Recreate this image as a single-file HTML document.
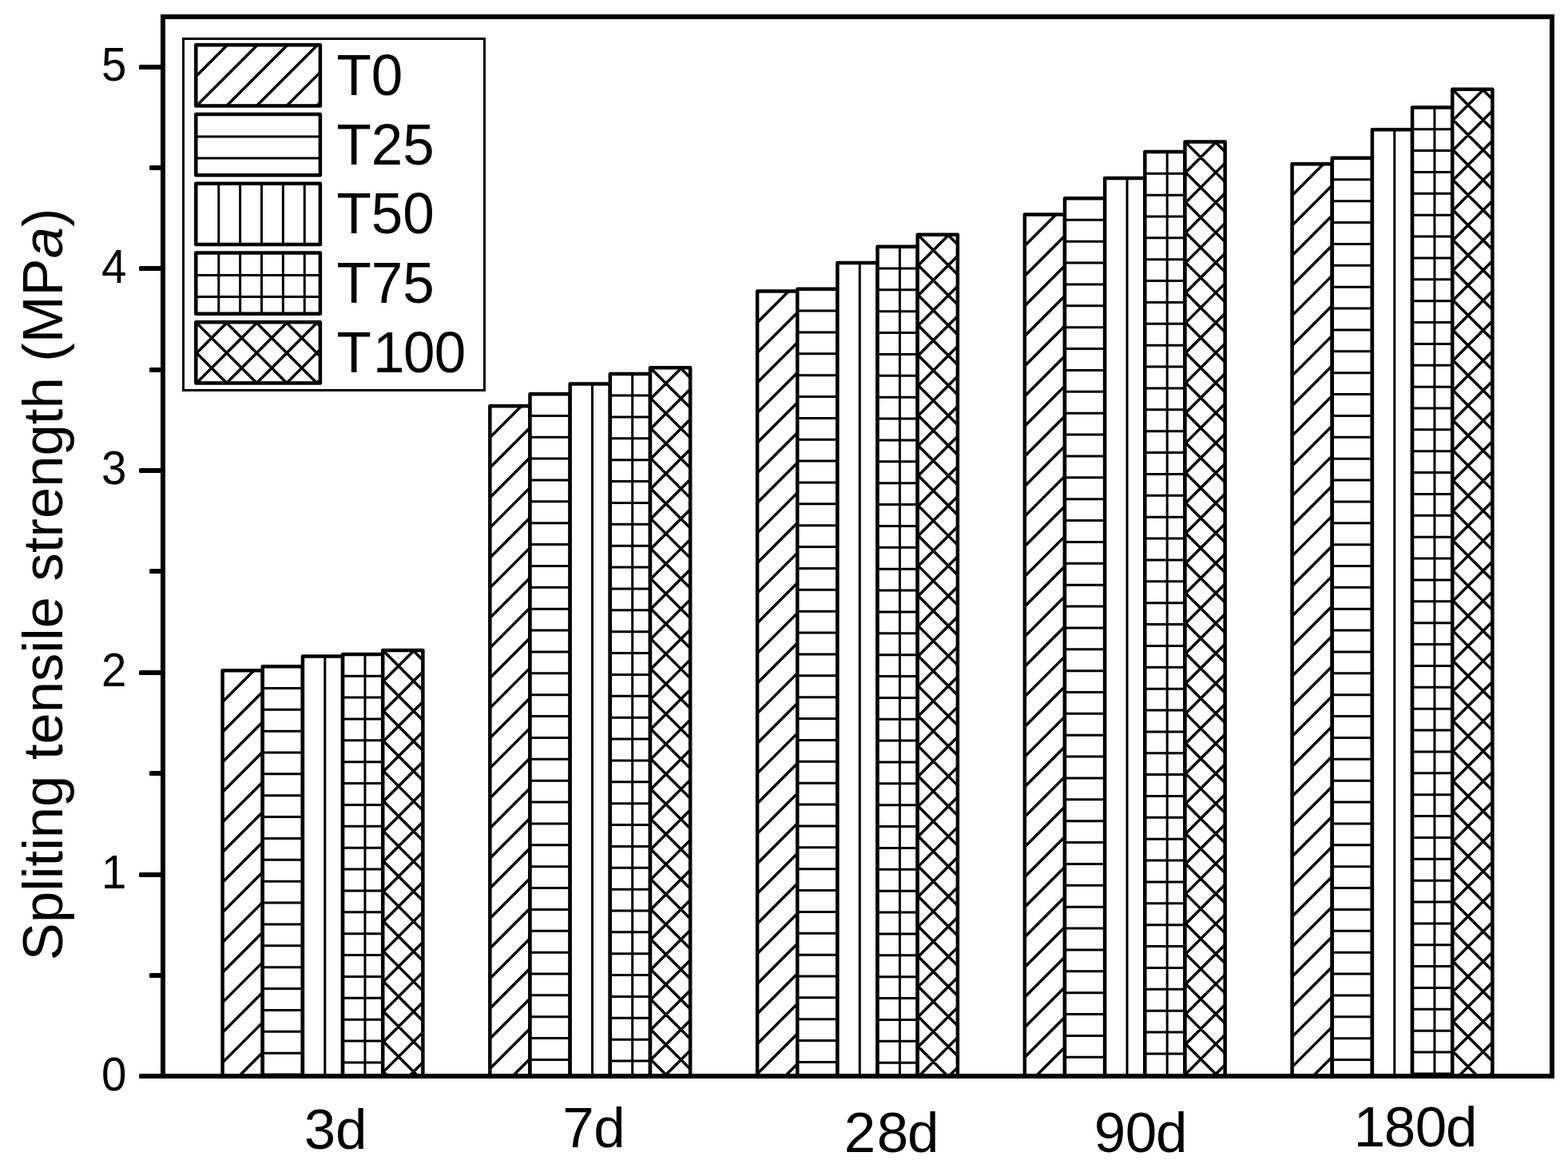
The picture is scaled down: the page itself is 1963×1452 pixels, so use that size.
<!DOCTYPE html>
<html lang="en"><head><meta charset="utf-8"><title>Spliting tensile strength</title>
<style>
html,body{margin:0;padding:0;background:#fff;}
body{width:1963px;height:1452px;overflow:hidden;}
svg{display:block;}
text{font-family:"Liberation Sans",sans-serif;fill:#000;}
.b{fill:#fff;stroke:#000;stroke-linejoin:round;}
.h{fill:none;stroke:#000;stroke-width:3;}
.hd{fill:none;stroke:#000;stroke-width:3.5;}
.yt{font-size:56.5px;text-anchor:end;}
.lg{font-size:71px;}
.xl{font-size:71px;}
.ti{font-size:70.6px;}
</style></head><body>
<svg width="1963" height="1452" viewBox="0 0 1963 1452">
<rect width="1963" height="1452" fill="#fff"/>
<defs><clipPath id="c1"><rect x="278.6" y="839.27" width="50.16" height="507.73"/></clipPath><clipPath id="c2"><rect x="328.76" y="834.22" width="50.16" height="512.78"/></clipPath><clipPath id="c3"><rect x="378.92" y="821.59" width="50.16" height="525.41"/></clipPath><clipPath id="c4"><rect x="429.08" y="819.07" width="50.16" height="527.93"/></clipPath><clipPath id="c5"><rect x="479.24" y="814.01" width="50.16" height="532.99"/></clipPath><clipPath id="c6"><rect x="613.35" y="508.37" width="50.16" height="838.63"/></clipPath><clipPath id="c7"><rect x="663.51" y="493.21" width="50.16" height="853.79"/></clipPath><clipPath id="c8"><rect x="713.67" y="480.58" width="50.16" height="866.42"/></clipPath><clipPath id="c9"><rect x="763.83" y="467.95" width="50.16" height="879.05"/></clipPath><clipPath id="c10"><rect x="813.99" y="460.37" width="50.16" height="886.63"/></clipPath><clipPath id="c11"><rect x="948.1" y="364.39" width="50.16" height="982.61"/></clipPath><clipPath id="c12"><rect x="998.26" y="361.86" width="50.16" height="985.14"/></clipPath><clipPath id="c13"><rect x="1048.42" y="329.02" width="50.16" height="1017.98"/></clipPath><clipPath id="c14"><rect x="1098.58" y="308.81" width="50.16" height="1038.19"/></clipPath><clipPath id="c15"><rect x="1148.74" y="293.66" width="50.16" height="1053.34"/></clipPath><clipPath id="c16"><rect x="1282.85" y="268.4" width="50.16" height="1078.6"/></clipPath><clipPath id="c17"><rect x="1333.01" y="248.19" width="50.16" height="1098.81"/></clipPath><clipPath id="c18"><rect x="1383.17" y="222.93" width="50.16" height="1124.07"/></clipPath><clipPath id="c19"><rect x="1433.33" y="190.09" width="50.16" height="1156.91"/></clipPath><clipPath id="c20"><rect x="1483.49" y="177.46" width="50.16" height="1169.54"/></clipPath><clipPath id="c21"><rect x="1617.6" y="205.25" width="50.16" height="1141.75"/></clipPath><clipPath id="c22"><rect x="1667.76" y="197.67" width="50.16" height="1149.33"/></clipPath><clipPath id="c23"><rect x="1717.92" y="162.31" width="50.16" height="1184.69"/></clipPath><clipPath id="c24"><rect x="1768.08" y="134.52" width="50.16" height="1212.48"/></clipPath><clipPath id="c25"><rect x="1818.24" y="111.79" width="50.16" height="1235.21"/></clipPath><clipPath id="c26"><rect x="245.3" y="56.3" width="155.6" height="76.3"/></clipPath><clipPath id="c27"><rect x="245.3" y="143.05" width="155.6" height="76.3"/></clipPath><clipPath id="c28"><rect x="245.3" y="229.8" width="155.6" height="76.3"/></clipPath><clipPath id="c29"><rect x="245.3" y="316.55" width="155.6" height="76.3"/></clipPath><clipPath id="c30"><rect x="245.3" y="403.3" width="155.6" height="76.3"/></clipPath></defs>
<rect x="278.6" y="839.27" width="50.16" height="507.73" class="b" stroke-width="4.5"/><path d="M275.6 843.97L331.76 787.81M275.6 881.59L331.76 825.43M275.6 919.21L331.76 863.05M275.6 956.83L331.76 900.67M275.6 994.45L331.76 938.29M275.6 1032.07L331.76 975.91M275.6 1069.69L331.76 1013.53M275.6 1107.31L331.76 1051.15M275.6 1144.93L331.76 1088.77M275.6 1182.55L331.76 1126.39M275.6 1220.17L331.76 1164.01M275.6 1257.79L331.76 1201.63M275.6 1295.41L331.76 1239.25M275.6 1333.03L331.76 1276.87M275.6 1370.65L331.76 1314.49" class="hd" clip-path="url(#c1)"/>
<rect x="328.76" y="834.22" width="50.16" height="512.78" class="b" stroke-width="4.5"/><path d="M328.76 861.39H378.92M328.76 888.26H378.92M328.76 915.13H378.92M328.76 942H378.92M328.76 968.87H378.92M328.76 995.74H378.92M328.76 1022.61H378.92M328.76 1049.48H378.92M328.76 1076.35H378.92M328.76 1103.22H378.92M328.76 1130.09H378.92M328.76 1156.96H378.92M328.76 1183.83H378.92M328.76 1210.7H378.92M328.76 1237.57H378.92M328.76 1264.44H378.92M328.76 1291.31H378.92M328.76 1318.18H378.92M328.76 1345.05H378.92" class="h" clip-path="url(#c2)"/>
<rect x="378.92" y="821.59" width="50.16" height="525.41" class="b" stroke-width="4.5"/><path d="M406.79 821.59V1347" class="h" clip-path="url(#c3)"/>
<rect x="429.08" y="819.07" width="50.16" height="527.93" class="b" stroke-width="4.5"/><path d="M429.08 846.24H479.24M429.08 873.11H479.24M429.08 899.98H479.24M429.08 926.85H479.24M429.08 953.72H479.24M429.08 980.59H479.24M429.08 1007.46H479.24M429.08 1034.33H479.24M429.08 1061.2H479.24M429.08 1088.07H479.24M429.08 1114.94H479.24M429.08 1141.81H479.24M429.08 1168.68H479.24M429.08 1195.55H479.24M429.08 1222.42H479.24M429.08 1249.29H479.24M429.08 1276.16H479.24M429.08 1303.03H479.24M429.08 1329.9H479.24M456.95 819.07V1347" class="h" clip-path="url(#c4)"/>
<rect x="479.24" y="814.01" width="50.16" height="532.99" class="b" stroke-width="4.5"/><path d="M476.24 818.71L532.4 762.55M476.24 856.33L532.4 800.17M476.24 893.95L532.4 837.79M476.24 931.57L532.4 875.41M476.24 969.19L532.4 913.03M476.24 1006.81L532.4 950.65M476.24 1044.43L532.4 988.27M476.24 1082.05L532.4 1025.89M476.24 1119.67L532.4 1063.51M476.24 1157.29L532.4 1101.13M476.24 1194.91L532.4 1138.75M476.24 1232.53L532.4 1176.37M476.24 1270.15L532.4 1213.99M476.24 1307.77L532.4 1251.61M476.24 1345.39L532.4 1289.23M476.24 1383.01L532.4 1326.85M476.24 735.67L532.4 791.83M476.24 773.29L532.4 829.45M476.24 810.91L532.4 867.07M476.24 848.53L532.4 904.69M476.24 886.15L532.4 942.31M476.24 923.77L532.4 979.93M476.24 961.39L532.4 1017.55M476.24 999.01L532.4 1055.17M476.24 1036.63L532.4 1092.79M476.24 1074.25L532.4 1130.41M476.24 1111.87L532.4 1168.03M476.24 1149.49L532.4 1205.65M476.24 1187.11L532.4 1243.27M476.24 1224.73L532.4 1280.89M476.24 1262.35L532.4 1318.51M476.24 1299.97L532.4 1356.13M476.24 1337.59L532.4 1393.75" class="hd" clip-path="url(#c5)"/>
<rect x="613.35" y="508.37" width="50.16" height="838.63" class="b" stroke-width="4.5"/><path d="M610.35 513.07L666.51 456.91M610.35 550.69L666.51 494.53M610.35 588.31L666.51 532.15M610.35 625.93L666.51 569.77M610.35 663.55L666.51 607.39M610.35 701.17L666.51 645.01M610.35 738.79L666.51 682.63M610.35 776.41L666.51 720.25M610.35 814.03L666.51 757.87M610.35 851.65L666.51 795.49M610.35 889.27L666.51 833.11M610.35 926.89L666.51 870.73M610.35 964.51L666.51 908.35M610.35 1002.13L666.51 945.97M610.35 1039.75L666.51 983.59M610.35 1077.37L666.51 1021.21M610.35 1114.99L666.51 1058.83M610.35 1152.61L666.51 1096.45M610.35 1190.23L666.51 1134.07M610.35 1227.85L666.51 1171.69M610.35 1265.47L666.51 1209.31M610.35 1303.09L666.51 1246.93M610.35 1340.71L666.51 1284.55M610.35 1378.33L666.51 1322.17" class="hd" clip-path="url(#c6)"/>
<rect x="663.51" y="493.21" width="50.16" height="853.79" class="b" stroke-width="4.5"/><path d="M663.51 520.38H713.67M663.51 547.25H713.67M663.51 574.12H713.67M663.51 600.99H713.67M663.51 627.86H713.67M663.51 654.73H713.67M663.51 681.6H713.67M663.51 708.47H713.67M663.51 735.34H713.67M663.51 762.21H713.67M663.51 789.08H713.67M663.51 815.95H713.67M663.51 842.82H713.67M663.51 869.69H713.67M663.51 896.56H713.67M663.51 923.43H713.67M663.51 950.3H713.67M663.51 977.17H713.67M663.51 1004.04H713.67M663.51 1030.91H713.67M663.51 1057.78H713.67M663.51 1084.65H713.67M663.51 1111.52H713.67M663.51 1138.39H713.67M663.51 1165.26H713.67M663.51 1192.13H713.67M663.51 1219H713.67M663.51 1245.87H713.67M663.51 1272.74H713.67M663.51 1299.61H713.67M663.51 1326.48H713.67" class="h" clip-path="url(#c7)"/>
<rect x="713.67" y="480.58" width="50.16" height="866.42" class="b" stroke-width="4.5"/><path d="M741.54 480.58V1347" class="h" clip-path="url(#c8)"/>
<rect x="763.83" y="467.95" width="50.16" height="879.05" class="b" stroke-width="4.5"/><path d="M763.83 495.12H813.99M763.83 521.99H813.99M763.83 548.86H813.99M763.83 575.73H813.99M763.83 602.6H813.99M763.83 629.47H813.99M763.83 656.34H813.99M763.83 683.21H813.99M763.83 710.08H813.99M763.83 736.95H813.99M763.83 763.82H813.99M763.83 790.69H813.99M763.83 817.56H813.99M763.83 844.43H813.99M763.83 871.3H813.99M763.83 898.17H813.99M763.83 925.04H813.99M763.83 951.91H813.99M763.83 978.78H813.99M763.83 1005.65H813.99M763.83 1032.52H813.99M763.83 1059.39H813.99M763.83 1086.26H813.99M763.83 1113.13H813.99M763.83 1140H813.99M763.83 1166.87H813.99M763.83 1193.74H813.99M763.83 1220.61H813.99M763.83 1247.48H813.99M763.83 1274.35H813.99M763.83 1301.22H813.99M763.83 1328.09H813.99M791.7 467.95V1347" class="h" clip-path="url(#c9)"/>
<rect x="813.99" y="460.37" width="50.16" height="886.63" class="b" stroke-width="4.5"/><path d="M810.99 465.07L867.15 408.91M810.99 502.69L867.15 446.53M810.99 540.31L867.15 484.15M810.99 577.93L867.15 521.77M810.99 615.55L867.15 559.39M810.99 653.17L867.15 597.01M810.99 690.79L867.15 634.63M810.99 728.41L867.15 672.25M810.99 766.03L867.15 709.87M810.99 803.65L867.15 747.49M810.99 841.27L867.15 785.11M810.99 878.89L867.15 822.73M810.99 916.51L867.15 860.35M810.99 954.13L867.15 897.97M810.99 991.75L867.15 935.59M810.99 1029.37L867.15 973.21M810.99 1066.99L867.15 1010.83M810.99 1104.61L867.15 1048.45M810.99 1142.23L867.15 1086.07M810.99 1179.85L867.15 1123.69M810.99 1217.47L867.15 1161.31M810.99 1255.09L867.15 1198.93M810.99 1292.71L867.15 1236.55M810.99 1330.33L867.15 1274.17M810.99 1367.95L867.15 1311.79M810.99 382.03L867.15 438.19M810.99 419.65L867.15 475.81M810.99 457.27L867.15 513.43M810.99 494.89L867.15 551.05M810.99 532.51L867.15 588.67M810.99 570.13L867.15 626.29M810.99 607.75L867.15 663.91M810.99 645.37L867.15 701.53M810.99 682.99L867.15 739.15M810.99 720.61L867.15 776.77M810.99 758.23L867.15 814.39M810.99 795.85L867.15 852.01M810.99 833.47L867.15 889.63M810.99 871.09L867.15 927.25M810.99 908.71L867.15 964.87M810.99 946.33L867.15 1002.49M810.99 983.95L867.15 1040.11M810.99 1021.57L867.15 1077.73M810.99 1059.19L867.15 1115.35M810.99 1096.81L867.15 1152.97M810.99 1134.43L867.15 1190.59M810.99 1172.05L867.15 1228.21M810.99 1209.67L867.15 1265.83M810.99 1247.29L867.15 1303.45M810.99 1284.91L867.15 1341.07M810.99 1322.53L867.15 1378.69" class="hd" clip-path="url(#c10)"/>
<rect x="948.1" y="364.39" width="50.16" height="982.61" class="b" stroke-width="4.5"/><path d="M945.1 369.09L1001.26 312.93M945.1 406.71L1001.26 350.55M945.1 444.33L1001.26 388.17M945.1 481.95L1001.26 425.79M945.1 519.57L1001.26 463.41M945.1 557.19L1001.26 501.03M945.1 594.81L1001.26 538.65M945.1 632.43L1001.26 576.27M945.1 670.05L1001.26 613.89M945.1 707.67L1001.26 651.51M945.1 745.29L1001.26 689.13M945.1 782.91L1001.26 726.75M945.1 820.53L1001.26 764.37M945.1 858.15L1001.26 801.99M945.1 895.77L1001.26 839.61M945.1 933.39L1001.26 877.23M945.1 971.01L1001.26 914.85M945.1 1008.63L1001.26 952.47M945.1 1046.25L1001.26 990.09M945.1 1083.87L1001.26 1027.71M945.1 1121.49L1001.26 1065.33M945.1 1159.11L1001.26 1102.95M945.1 1196.73L1001.26 1140.57M945.1 1234.35L1001.26 1178.19M945.1 1271.97L1001.26 1215.81M945.1 1309.59L1001.26 1253.43M945.1 1347.21L1001.26 1291.05M945.1 1384.83L1001.26 1328.67" class="hd" clip-path="url(#c11)"/>
<rect x="998.26" y="361.86" width="50.16" height="985.14" class="b" stroke-width="4.5"/><path d="M998.26 389.03H1048.42M998.26 415.9H1048.42M998.26 442.77H1048.42M998.26 469.64H1048.42M998.26 496.51H1048.42M998.26 523.38H1048.42M998.26 550.25H1048.42M998.26 577.12H1048.42M998.26 603.99H1048.42M998.26 630.86H1048.42M998.26 657.73H1048.42M998.26 684.6H1048.42M998.26 711.47H1048.42M998.26 738.34H1048.42M998.26 765.21H1048.42M998.26 792.08H1048.42M998.26 818.95H1048.42M998.26 845.82H1048.42M998.26 872.69H1048.42M998.26 899.56H1048.42M998.26 926.43H1048.42M998.26 953.3H1048.42M998.26 980.17H1048.42M998.26 1007.04H1048.42M998.26 1033.91H1048.42M998.26 1060.78H1048.42M998.26 1087.65H1048.42M998.26 1114.52H1048.42M998.26 1141.39H1048.42M998.26 1168.26H1048.42M998.26 1195.13H1048.42M998.26 1222H1048.42M998.26 1248.87H1048.42M998.26 1275.74H1048.42M998.26 1302.61H1048.42M998.26 1329.48H1048.42" class="h" clip-path="url(#c12)"/>
<rect x="1048.42" y="329.02" width="50.16" height="1017.98" class="b" stroke-width="4.5"/><path d="M1076.29 329.02V1347" class="h" clip-path="url(#c13)"/>
<rect x="1098.58" y="308.81" width="50.16" height="1038.19" class="b" stroke-width="4.5"/><path d="M1098.58 335.98H1148.74M1098.58 362.85H1148.74M1098.58 389.72H1148.74M1098.58 416.59H1148.74M1098.58 443.46H1148.74M1098.58 470.33H1148.74M1098.58 497.2H1148.74M1098.58 524.07H1148.74M1098.58 550.94H1148.74M1098.58 577.81H1148.74M1098.58 604.68H1148.74M1098.58 631.55H1148.74M1098.58 658.42H1148.74M1098.58 685.29H1148.74M1098.58 712.16H1148.74M1098.58 739.03H1148.74M1098.58 765.9H1148.74M1098.58 792.77H1148.74M1098.58 819.64H1148.74M1098.58 846.51H1148.74M1098.58 873.38H1148.74M1098.58 900.25H1148.74M1098.58 927.12H1148.74M1098.58 953.99H1148.74M1098.58 980.86H1148.74M1098.58 1007.73H1148.74M1098.58 1034.6H1148.74M1098.58 1061.47H1148.74M1098.58 1088.34H1148.74M1098.58 1115.21H1148.74M1098.58 1142.08H1148.74M1098.58 1168.95H1148.74M1098.58 1195.82H1148.74M1098.58 1222.69H1148.74M1098.58 1249.56H1148.74M1098.58 1276.43H1148.74M1098.58 1303.3H1148.74M1098.58 1330.17H1148.74M1126.45 308.81V1347" class="h" clip-path="url(#c14)"/>
<rect x="1148.74" y="293.66" width="50.16" height="1053.34" class="b" stroke-width="4.5"/><path d="M1145.74 298.36L1201.9 242.2M1145.74 335.98L1201.9 279.82M1145.74 373.6L1201.9 317.44M1145.74 411.22L1201.9 355.06M1145.74 448.84L1201.9 392.68M1145.74 486.46L1201.9 430.3M1145.74 524.08L1201.9 467.92M1145.74 561.7L1201.9 505.54M1145.74 599.32L1201.9 543.16M1145.74 636.94L1201.9 580.78M1145.74 674.56L1201.9 618.4M1145.74 712.18L1201.9 656.02M1145.74 749.8L1201.9 693.64M1145.74 787.42L1201.9 731.26M1145.74 825.04L1201.9 768.88M1145.74 862.66L1201.9 806.5M1145.74 900.28L1201.9 844.12M1145.74 937.9L1201.9 881.74M1145.74 975.52L1201.9 919.36M1145.74 1013.14L1201.9 956.98M1145.74 1050.76L1201.9 994.6M1145.74 1088.38L1201.9 1032.22M1145.74 1126L1201.9 1069.84M1145.74 1163.62L1201.9 1107.46M1145.74 1201.24L1201.9 1145.08M1145.74 1238.86L1201.9 1182.7M1145.74 1276.48L1201.9 1220.32M1145.74 1314.1L1201.9 1257.94M1145.74 1351.72L1201.9 1295.56M1145.74 1389.34L1201.9 1333.18M1145.74 215.32L1201.9 271.48M1145.74 252.94L1201.9 309.1M1145.74 290.56L1201.9 346.72M1145.74 328.18L1201.9 384.34M1145.74 365.8L1201.9 421.96M1145.74 403.42L1201.9 459.58M1145.74 441.04L1201.9 497.2M1145.74 478.66L1201.9 534.82M1145.74 516.28L1201.9 572.44M1145.74 553.9L1201.9 610.06M1145.74 591.52L1201.9 647.68M1145.74 629.14L1201.9 685.3M1145.74 666.76L1201.9 722.92M1145.74 704.38L1201.9 760.54M1145.74 742L1201.9 798.16M1145.74 779.62L1201.9 835.78M1145.74 817.24L1201.9 873.4M1145.74 854.86L1201.9 911.02M1145.74 892.48L1201.9 948.64M1145.74 930.1L1201.9 986.26M1145.74 967.72L1201.9 1023.88M1145.74 1005.34L1201.9 1061.5M1145.74 1042.96L1201.9 1099.12M1145.74 1080.58L1201.9 1136.74M1145.74 1118.2L1201.9 1174.36M1145.74 1155.82L1201.9 1211.98M1145.74 1193.44L1201.9 1249.6M1145.74 1231.06L1201.9 1287.22M1145.74 1268.68L1201.9 1324.84M1145.74 1306.3L1201.9 1362.46M1145.74 1343.92L1201.9 1400.08" class="hd" clip-path="url(#c15)"/>
<rect x="1282.85" y="268.4" width="50.16" height="1078.6" class="b" stroke-width="4.5"/><path d="M1279.85 273.1L1336.01 216.94M1279.85 310.72L1336.01 254.56M1279.85 348.34L1336.01 292.18M1279.85 385.96L1336.01 329.8M1279.85 423.58L1336.01 367.42M1279.85 461.2L1336.01 405.04M1279.85 498.82L1336.01 442.66M1279.85 536.44L1336.01 480.28M1279.85 574.06L1336.01 517.9M1279.85 611.68L1336.01 555.52M1279.85 649.3L1336.01 593.14M1279.85 686.92L1336.01 630.76M1279.85 724.54L1336.01 668.38M1279.85 762.16L1336.01 706M1279.85 799.78L1336.01 743.62M1279.85 837.4L1336.01 781.24M1279.85 875.02L1336.01 818.86M1279.85 912.64L1336.01 856.48M1279.85 950.26L1336.01 894.1M1279.85 987.88L1336.01 931.72M1279.85 1025.5L1336.01 969.34M1279.85 1063.12L1336.01 1006.96M1279.85 1100.74L1336.01 1044.58M1279.85 1138.36L1336.01 1082.2M1279.85 1175.98L1336.01 1119.82M1279.85 1213.6L1336.01 1157.44M1279.85 1251.22L1336.01 1195.06M1279.85 1288.84L1336.01 1232.68M1279.85 1326.46L1336.01 1270.3M1279.85 1364.08L1336.01 1307.92" class="hd" clip-path="url(#c16)"/>
<rect x="1333.01" y="248.19" width="50.16" height="1098.81" class="b" stroke-width="4.5"/><path d="M1333.01 275.36H1383.17M1333.01 302.23H1383.17M1333.01 329.1H1383.17M1333.01 355.97H1383.17M1333.01 382.84H1383.17M1333.01 409.71H1383.17M1333.01 436.58H1383.17M1333.01 463.45H1383.17M1333.01 490.32H1383.17M1333.01 517.19H1383.17M1333.01 544.06H1383.17M1333.01 570.93H1383.17M1333.01 597.8H1383.17M1333.01 624.67H1383.17M1333.01 651.54H1383.17M1333.01 678.41H1383.17M1333.01 705.28H1383.17M1333.01 732.15H1383.17M1333.01 759.02H1383.17M1333.01 785.89H1383.17M1333.01 812.76H1383.17M1333.01 839.63H1383.17M1333.01 866.5H1383.17M1333.01 893.37H1383.17M1333.01 920.24H1383.17M1333.01 947.11H1383.17M1333.01 973.98H1383.17M1333.01 1000.85H1383.17M1333.01 1027.72H1383.17M1333.01 1054.59H1383.17M1333.01 1081.46H1383.17M1333.01 1108.33H1383.17M1333.01 1135.2H1383.17M1333.01 1162.07H1383.17M1333.01 1188.94H1383.17M1333.01 1215.81H1383.17M1333.01 1242.68H1383.17M1333.01 1269.55H1383.17M1333.01 1296.42H1383.17M1333.01 1323.29H1383.17" class="h" clip-path="url(#c17)"/>
<rect x="1383.17" y="222.93" width="50.16" height="1124.07" class="b" stroke-width="4.5"/><path d="M1411.04 222.93V1347" class="h" clip-path="url(#c18)"/>
<rect x="1433.33" y="190.09" width="50.16" height="1156.91" class="b" stroke-width="4.5"/><path d="M1433.33 217.26H1483.49M1433.33 244.13H1483.49M1433.33 271H1483.49M1433.33 297.87H1483.49M1433.33 324.74H1483.49M1433.33 351.61H1483.49M1433.33 378.48H1483.49M1433.33 405.35H1483.49M1433.33 432.22H1483.49M1433.33 459.09H1483.49M1433.33 485.96H1483.49M1433.33 512.83H1483.49M1433.33 539.7H1483.49M1433.33 566.57H1483.49M1433.33 593.44H1483.49M1433.33 620.31H1483.49M1433.33 647.18H1483.49M1433.33 674.05H1483.49M1433.33 700.92H1483.49M1433.33 727.79H1483.49M1433.33 754.66H1483.49M1433.33 781.53H1483.49M1433.33 808.4H1483.49M1433.33 835.27H1483.49M1433.33 862.14H1483.49M1433.33 889.01H1483.49M1433.33 915.88H1483.49M1433.33 942.75H1483.49M1433.33 969.62H1483.49M1433.33 996.49H1483.49M1433.33 1023.36H1483.49M1433.33 1050.23H1483.49M1433.33 1077.1H1483.49M1433.33 1103.97H1483.49M1433.33 1130.84H1483.49M1433.33 1157.71H1483.49M1433.33 1184.58H1483.49M1433.33 1211.45H1483.49M1433.33 1238.32H1483.49M1433.33 1265.19H1483.49M1433.33 1292.06H1483.49M1433.33 1318.93H1483.49M1433.33 1345.8H1483.49M1461.2 190.09V1347" class="h" clip-path="url(#c19)"/>
<rect x="1483.49" y="177.46" width="50.16" height="1169.54" class="b" stroke-width="4.5"/><path d="M1480.49 182.16L1536.65 126M1480.49 219.78L1536.65 163.62M1480.49 257.4L1536.65 201.24M1480.49 295.02L1536.65 238.86M1480.49 332.64L1536.65 276.48M1480.49 370.26L1536.65 314.1M1480.49 407.88L1536.65 351.72M1480.49 445.5L1536.65 389.34M1480.49 483.12L1536.65 426.96M1480.49 520.74L1536.65 464.58M1480.49 558.36L1536.65 502.2M1480.49 595.98L1536.65 539.82M1480.49 633.6L1536.65 577.44M1480.49 671.22L1536.65 615.06M1480.49 708.84L1536.65 652.68M1480.49 746.46L1536.65 690.3M1480.49 784.08L1536.65 727.92M1480.49 821.7L1536.65 765.54M1480.49 859.32L1536.65 803.16M1480.49 896.94L1536.65 840.78M1480.49 934.56L1536.65 878.4M1480.49 972.18L1536.65 916.02M1480.49 1009.8L1536.65 953.64M1480.49 1047.42L1536.65 991.26M1480.49 1085.04L1536.65 1028.88M1480.49 1122.66L1536.65 1066.5M1480.49 1160.28L1536.65 1104.12M1480.49 1197.9L1536.65 1141.74M1480.49 1235.52L1536.65 1179.36M1480.49 1273.14L1536.65 1216.98M1480.49 1310.76L1536.65 1254.6M1480.49 1348.38L1536.65 1292.22M1480.49 1386L1536.65 1329.84M1480.49 99.12L1536.65 155.28M1480.49 136.74L1536.65 192.9M1480.49 174.36L1536.65 230.52M1480.49 211.98L1536.65 268.14M1480.49 249.6L1536.65 305.76M1480.49 287.22L1536.65 343.38M1480.49 324.84L1536.65 381M1480.49 362.46L1536.65 418.62M1480.49 400.08L1536.65 456.24M1480.49 437.7L1536.65 493.86M1480.49 475.32L1536.65 531.48M1480.49 512.94L1536.65 569.1M1480.49 550.56L1536.65 606.72M1480.49 588.18L1536.65 644.34M1480.49 625.8L1536.65 681.96M1480.49 663.42L1536.65 719.58M1480.49 701.04L1536.65 757.2M1480.49 738.66L1536.65 794.82M1480.49 776.28L1536.65 832.44M1480.49 813.9L1536.65 870.06M1480.49 851.52L1536.65 907.68M1480.49 889.14L1536.65 945.3M1480.49 926.76L1536.65 982.92M1480.49 964.38L1536.65 1020.54M1480.49 1002L1536.65 1058.16M1480.49 1039.62L1536.65 1095.78M1480.49 1077.24L1536.65 1133.4M1480.49 1114.86L1536.65 1171.02M1480.49 1152.48L1536.65 1208.64M1480.49 1190.1L1536.65 1246.26M1480.49 1227.72L1536.65 1283.88M1480.49 1265.34L1536.65 1321.5M1480.49 1302.96L1536.65 1359.12M1480.49 1340.58L1536.65 1396.74" class="hd" clip-path="url(#c20)"/>
<rect x="1617.6" y="205.25" width="50.16" height="1141.75" class="b" stroke-width="4.5"/><path d="M1614.6 209.95L1670.76 153.79M1614.6 247.57L1670.76 191.41M1614.6 285.19L1670.76 229.03M1614.6 322.81L1670.76 266.65M1614.6 360.43L1670.76 304.27M1614.6 398.05L1670.76 341.89M1614.6 435.67L1670.76 379.51M1614.6 473.29L1670.76 417.13M1614.6 510.91L1670.76 454.75M1614.6 548.53L1670.76 492.37M1614.6 586.15L1670.76 529.99M1614.6 623.77L1670.76 567.61M1614.6 661.39L1670.76 605.23M1614.6 699.01L1670.76 642.85M1614.6 736.63L1670.76 680.47M1614.6 774.25L1670.76 718.09M1614.6 811.87L1670.76 755.71M1614.6 849.49L1670.76 793.33M1614.6 887.11L1670.76 830.95M1614.6 924.73L1670.76 868.57M1614.6 962.35L1670.76 906.19M1614.6 999.97L1670.76 943.81M1614.6 1037.59L1670.76 981.43M1614.6 1075.21L1670.76 1019.05M1614.6 1112.83L1670.76 1056.67M1614.6 1150.45L1670.76 1094.29M1614.6 1188.07L1670.76 1131.91M1614.6 1225.69L1670.76 1169.53M1614.6 1263.31L1670.76 1207.15M1614.6 1300.93L1670.76 1244.77M1614.6 1338.55L1670.76 1282.39M1614.6 1376.17L1670.76 1320.01" class="hd" clip-path="url(#c21)"/>
<rect x="1667.76" y="197.67" width="50.16" height="1149.33" class="b" stroke-width="4.5"/><path d="M1667.76 224.84H1717.92M1667.76 251.71H1717.92M1667.76 278.58H1717.92M1667.76 305.45H1717.92M1667.76 332.32H1717.92M1667.76 359.19H1717.92M1667.76 386.06H1717.92M1667.76 412.93H1717.92M1667.76 439.8H1717.92M1667.76 466.67H1717.92M1667.76 493.54H1717.92M1667.76 520.41H1717.92M1667.76 547.28H1717.92M1667.76 574.15H1717.92M1667.76 601.02H1717.92M1667.76 627.89H1717.92M1667.76 654.76H1717.92M1667.76 681.63H1717.92M1667.76 708.5H1717.92M1667.76 735.37H1717.92M1667.76 762.24H1717.92M1667.76 789.11H1717.92M1667.76 815.98H1717.92M1667.76 842.85H1717.92M1667.76 869.72H1717.92M1667.76 896.59H1717.92M1667.76 923.46H1717.92M1667.76 950.33H1717.92M1667.76 977.2H1717.92M1667.76 1004.07H1717.92M1667.76 1030.94H1717.92M1667.76 1057.81H1717.92M1667.76 1084.68H1717.92M1667.76 1111.55H1717.92M1667.76 1138.42H1717.92M1667.76 1165.29H1717.92M1667.76 1192.16H1717.92M1667.76 1219.03H1717.92M1667.76 1245.9H1717.92M1667.76 1272.77H1717.92M1667.76 1299.64H1717.92M1667.76 1326.51H1717.92" class="h" clip-path="url(#c22)"/>
<rect x="1717.92" y="162.31" width="50.16" height="1184.69" class="b" stroke-width="4.5"/><path d="M1745.79 162.31V1347" class="h" clip-path="url(#c23)"/>
<rect x="1768.08" y="134.52" width="50.16" height="1212.48" class="b" stroke-width="4.5"/><path d="M1768.08 161.69H1818.24M1768.08 188.56H1818.24M1768.08 215.43H1818.24M1768.08 242.3H1818.24M1768.08 269.17H1818.24M1768.08 296.04H1818.24M1768.08 322.91H1818.24M1768.08 349.78H1818.24M1768.08 376.65H1818.24M1768.08 403.52H1818.24M1768.08 430.39H1818.24M1768.08 457.26H1818.24M1768.08 484.13H1818.24M1768.08 511H1818.24M1768.08 537.87H1818.24M1768.08 564.74H1818.24M1768.08 591.61H1818.24M1768.08 618.48H1818.24M1768.08 645.35H1818.24M1768.08 672.22H1818.24M1768.08 699.09H1818.24M1768.08 725.96H1818.24M1768.08 752.83H1818.24M1768.08 779.7H1818.24M1768.08 806.57H1818.24M1768.08 833.44H1818.24M1768.08 860.31H1818.24M1768.08 887.18H1818.24M1768.08 914.05H1818.24M1768.08 940.92H1818.24M1768.08 967.79H1818.24M1768.08 994.66H1818.24M1768.08 1021.53H1818.24M1768.08 1048.4H1818.24M1768.08 1075.27H1818.24M1768.08 1102.14H1818.24M1768.08 1129.01H1818.24M1768.08 1155.88H1818.24M1768.08 1182.75H1818.24M1768.08 1209.62H1818.24M1768.08 1236.49H1818.24M1768.08 1263.36H1818.24M1768.08 1290.23H1818.24M1768.08 1317.1H1818.24M1768.08 1343.97H1818.24M1795.95 134.52V1347" class="h" clip-path="url(#c24)"/>
<rect x="1818.24" y="111.79" width="50.16" height="1235.21" class="b" stroke-width="4.5"/><path d="M1815.24 116.49L1871.4 60.33M1815.24 154.11L1871.4 97.95M1815.24 191.73L1871.4 135.57M1815.24 229.35L1871.4 173.19M1815.24 266.97L1871.4 210.81M1815.24 304.59L1871.4 248.43M1815.24 342.21L1871.4 286.05M1815.24 379.83L1871.4 323.67M1815.24 417.45L1871.4 361.29M1815.24 455.07L1871.4 398.91M1815.24 492.69L1871.4 436.53M1815.24 530.31L1871.4 474.15M1815.24 567.93L1871.4 511.77M1815.24 605.55L1871.4 549.39M1815.24 643.17L1871.4 587.01M1815.24 680.79L1871.4 624.63M1815.24 718.41L1871.4 662.25M1815.24 756.03L1871.4 699.87M1815.24 793.65L1871.4 737.49M1815.24 831.27L1871.4 775.11M1815.24 868.89L1871.4 812.73M1815.24 906.51L1871.4 850.35M1815.24 944.13L1871.4 887.97M1815.24 981.75L1871.4 925.59M1815.24 1019.37L1871.4 963.21M1815.24 1056.99L1871.4 1000.83M1815.24 1094.61L1871.4 1038.45M1815.24 1132.23L1871.4 1076.07M1815.24 1169.85L1871.4 1113.69M1815.24 1207.47L1871.4 1151.31M1815.24 1245.09L1871.4 1188.93M1815.24 1282.71L1871.4 1226.55M1815.24 1320.33L1871.4 1264.17M1815.24 1357.95L1871.4 1301.79M1815.24 1395.57L1871.4 1339.41M1815.24 33.45L1871.4 89.61M1815.24 71.07L1871.4 127.23M1815.24 108.69L1871.4 164.85M1815.24 146.31L1871.4 202.47M1815.24 183.93L1871.4 240.09M1815.24 221.55L1871.4 277.71M1815.24 259.17L1871.4 315.33M1815.24 296.79L1871.4 352.95M1815.24 334.41L1871.4 390.57M1815.24 372.03L1871.4 428.19M1815.24 409.65L1871.4 465.81M1815.24 447.27L1871.4 503.43M1815.24 484.89L1871.4 541.05M1815.24 522.51L1871.4 578.67M1815.24 560.13L1871.4 616.29M1815.24 597.75L1871.4 653.91M1815.24 635.37L1871.4 691.53M1815.24 672.99L1871.4 729.15M1815.24 710.61L1871.4 766.77M1815.24 748.23L1871.4 804.39M1815.24 785.85L1871.4 842.01M1815.24 823.47L1871.4 879.63M1815.24 861.09L1871.4 917.25M1815.24 898.71L1871.4 954.87M1815.24 936.33L1871.4 992.49M1815.24 973.95L1871.4 1030.11M1815.24 1011.57L1871.4 1067.73M1815.24 1049.19L1871.4 1105.35M1815.24 1086.81L1871.4 1142.97M1815.24 1124.43L1871.4 1180.59M1815.24 1162.05L1871.4 1218.21M1815.24 1199.67L1871.4 1255.83M1815.24 1237.29L1871.4 1293.45M1815.24 1274.91L1871.4 1331.07M1815.24 1312.53L1871.4 1368.69" class="hd" clip-path="url(#c25)"/>
<rect x="204" y="21" width="1739" height="1326" fill="none" stroke="#000" stroke-width="6"/>
<rect x="174" y="1344" width="29" height="6" rx="1.6"/>
<text class="yt" transform="translate(158.5 1365) scale(1 1.04)">0</text>
<rect x="187" y="1218" width="16" height="6" rx="1.6"/>
<rect x="174" y="1092" width="29" height="6" rx="1.6"/>
<text class="yt" transform="translate(158.5 1112) scale(1 1.04)">1</text>
<rect x="187" y="965" width="16" height="6" rx="1.6"/>
<rect x="174" y="839" width="29" height="6" rx="1.6"/>
<text class="yt" transform="translate(158.5 859) scale(1 1.04)">2</text>
<rect x="187" y="712" width="16" height="6" rx="1.6"/>
<rect x="174" y="586" width="29" height="6" rx="1.6"/>
<text class="yt" transform="translate(158.5 606.4) scale(1 1.04)">3</text>
<rect x="187" y="460" width="16" height="6" rx="1.6"/>
<rect x="174" y="333" width="29" height="6" rx="1.6"/>
<text class="yt" transform="translate(158.5 354) scale(1 1.04)">4</text>
<rect x="187" y="207" width="16" height="6" rx="1.6"/>
<rect x="174" y="81" width="29" height="6" rx="1.6"/>
<text class="yt" transform="translate(158.5 101) scale(1 1.04)">5</text>
<rect x="229.5" y="48.5" width="377" height="440" fill="#fff" stroke="#000" stroke-width="3"/>
<rect x="245.3" y="56.3" width="155.6" height="76.3" class="b" stroke-width="4.5"/><path d="M242.3 61L403.9 -100.6M242.3 98.62L403.9 -62.98M242.3 136.24L403.9 -25.36M242.3 173.86L403.9 12.26M242.3 211.48L403.9 49.88M242.3 249.1L403.9 87.5M242.3 286.72L403.9 125.12" class="hd" clip-path="url(#c26)"/>
<text class="lg" transform="translate(421.5 118.8) scale(1 1.03)">T0</text>
<rect x="245.3" y="143.05" width="155.6" height="76.3" class="b" stroke-width="4.5"/><path d="M245.3 171.12H400.9M245.3 197.99H400.9" class="h" clip-path="url(#c27)"/>
<text class="lg" transform="translate(421.5 205.6) scale(1 1.03)">T25</text>
<rect x="245.3" y="229.8" width="155.6" height="76.3" class="b" stroke-width="4.5"/><path d="M273.77 229.8V306.1M300.64 229.8V306.1M327.51 229.8V306.1M354.38 229.8V306.1M381.25 229.8V306.1" class="h" clip-path="url(#c28)"/>
<text class="lg" transform="translate(421.5 292.4) scale(1 1.03)">T50</text>
<rect x="245.3" y="316.55" width="155.6" height="76.3" class="b" stroke-width="4.5"/><path d="M245.3 344.62H400.9M245.3 371.49H400.9M273.77 316.55V392.85M300.64 316.55V392.85M327.51 316.55V392.85M354.38 316.55V392.85M381.25 316.55V392.85" class="h" clip-path="url(#c29)"/>
<text class="lg" transform="translate(421.5 379.2) scale(1 1.03)">T75</text>
<rect x="245.3" y="403.3" width="155.6" height="76.3" class="b" stroke-width="4.5"/><path d="M242.3 408L403.9 246.4M242.3 445.62L403.9 284.02M242.3 483.24L403.9 321.64M242.3 520.86L403.9 359.26M242.3 558.48L403.9 396.88M242.3 596.1L403.9 434.5M242.3 633.72L403.9 472.12M242.3 212.3L403.9 373.9M242.3 249.92L403.9 411.52M242.3 287.54L403.9 449.14M242.3 325.16L403.9 486.76M242.3 362.78L403.9 524.38M242.3 400.4L403.9 562M242.3 438.02L403.9 599.62M242.3 475.64L403.9 637.24" class="hd" clip-path="url(#c30)"/>
<text class="lg" transform="translate(421.5 466) scale(1 1.03)" x="0 45.4 83.4 122.2">T100</text>
<text class="xl" x="380.81 420.1" y="1437.9">3d</text>
<text class="xl" x="704.27 743.2" y="1435.9">7d</text>
<text class="xl" x="1056.71 1097.81 1136.05" y="1441.8">28d</text>
<text class="xl" x="1369.67 1408.76 1447" y="1441.8">90d</text>
<text class="xl" x="1694.8 1732.71 1771.66 1810" y="1435.1">180d</text>
<text class="ti" transform="translate(78 1202.2) rotate(-90)">Spliting tensile strength (MP<tspan font-style="italic">a</tspan>)</text>
</svg>
</body></html>
